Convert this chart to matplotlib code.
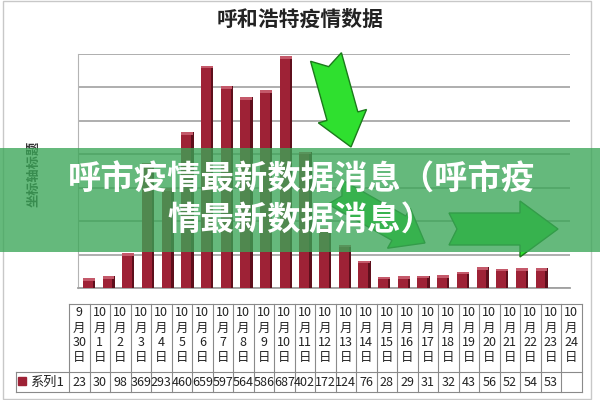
import matplotlib
matplotlib.use('Agg')
from matplotlib import pyplot as plt
from matplotlib.patches import Rectangle, Polygon
import numpy as np

plt.rcParams['font.family'] = ['Noto Sans CJK SC', 'DejaVu Sans']

title = '呼和浩特疫情数据'
ylabel = '坐标轴标题'
series_name = '系列1'
banner = '呼市疫情最新数据消息（呼市疫\n情最新数据消息）'

months = ['9'] + ['10'] * 24
days = ['30'] + [str(d) for d in range(1, 25)]
values = [23, 30, 98, 369, 293, 460, 659, 597, 564, 586, 687, 402,
          172, 124, 76, 28, 29, 31, 32, 43, 56, 52, 54, 53, None]

RED = '#9e2236'
RED_DARK = '#5e0f1c'
RED_TOP = '#c4596a'

fig = plt.figure(figsize=(6, 4), dpi=100)

# main plot area (pixel layout converted to fractions)
ax = fig.add_axes([78/600, 1-288/400, 492/600, 234/400])
n = len(values)
x = np.arange(n)
h = np.array([v if v is not None else 0 for v in values], dtype=float)
has = h > 0
ax.bar(x, h, width=0.5, color=RED, zorder=3)
ax.bar(x + 0.31, np.where(has, h + 6, 0), width=0.12, color=RED_DARK, zorder=3)
ax.bar(x + 0.05, np.where(has, 8, 0), bottom=h - 2, width=0.6, color=RED_TOP, zorder=4)
ax.set_xlim(-0.5, n - 0.5)
ax.set_ylim(0, 700)
ax.set_yticks(np.arange(0, 701, 100))
ax.yaxis.grid(True, color='#a8a8a8', lw=1.3)
ax.set_axisbelow(True)
ax.tick_params(left=False, bottom=False, labelleft=False, labelbottom=False)
for s in ['top', 'right']:
    ax.spines[s].set_visible(False)
ax.spines['left'].set_color('#b4b4b4')
ax.spines['bottom'].set_color('#a0a0a0')
ax.spines['bottom'].set_linewidth(1.3)

# overlay for title, table, arrows, banner
ov = fig.add_axes([0, 0, 1, 1], zorder=5)
ov.set_xlim(0, 600)
ov.set_ylim(400, 0)
ov.axis('off')

ov.add_patch(Rectangle((3, 1), 588, 398, fill=False, ec='#c8c8c8', lw=1))
ov.text(300, 19, title, ha='center', va='center', fontsize=15, fontweight='bold', color='#222222')
ov.text(33, 174, ylabel, ha='center', va='center', rotation=90, fontsize=9.5,
        fontweight='bold', color='#333333', zorder=1)

# data table
x0, cw = 69, 20.5
top, mid, bot = 304, 372, 392
lc = '#8a8a8a'
for i in range(n + 1):
    ov.plot([x0 + i*cw]*2, [top, bot], color=lc, lw=0.8)
ov.plot([x0, x0 + n*cw], [top, top], color=lc, lw=0.8)
ov.plot([16, x0 + n*cw], [mid, mid], color=lc, lw=0.8)
ov.plot([16, x0 + n*cw], [bot, bot], color=lc, lw=0.8)
ov.plot([16, 16], [mid, bot], color=lc, lw=0.8)
for i in range(n):
    cx = x0 + (i + 0.5)*cw
    for j, t in enumerate([months[i], '月', days[i], '日']):
        ov.text(cx, 313 + j*15, t, ha='center', va='center', fontsize=9, color='#222222')
    if values[i] is not None:
        ov.text(cx, 382, str(values[i]), ha='center', va='center', fontsize=9, color='#222222')
ov.add_patch(Rectangle((18, 377), 8, 8, color=RED))
ov.text(30, 382, series_name, ha='left', va='center', fontsize=9.5, color='#222222')


def arrow(p0, p1, w, hw, hl, notch, **kw):
    p0, p1 = np.array(p0, float), np.array(p1, float)
    u = (p1 - p0) / np.linalg.norm(p1 - p0)
    nv = np.array([-u[1], u[0]])
    b = p1 - u*hl
    pts = [p0 + nv*w/2, p0 + u*notch, p0 - nv*w/2, b - nv*w/2, b - nv*hw/2,
           p1, b + nv*hw/2, b + nv*w/2]
    ov.add_patch(Polygon(pts, closed=True, **kw))


akw = dict(fc='#2fe02f', ec='#1b7a1b', lw=1, zorder=2)
arrow((326, 57), (351, 147), 32, 50, 32, 10, **akw)
arrow((335, 192), (425, 243), 28, 46, 30, 8, **akw)
arrow((449, 229), (558, 229), 32, 56, 38, 8, **akw)

ov.add_patch(Rectangle((0, 148), 600, 104, color='#3aa657', alpha=0.78, lw=0, zorder=3))
ov.text(301, 200, banner, ha='center', va='center', fontsize=24, fontweight='bold',
        color='white', linespacing=1.25, zorder=4)

fig.savefig('out.png', dpi=100)
